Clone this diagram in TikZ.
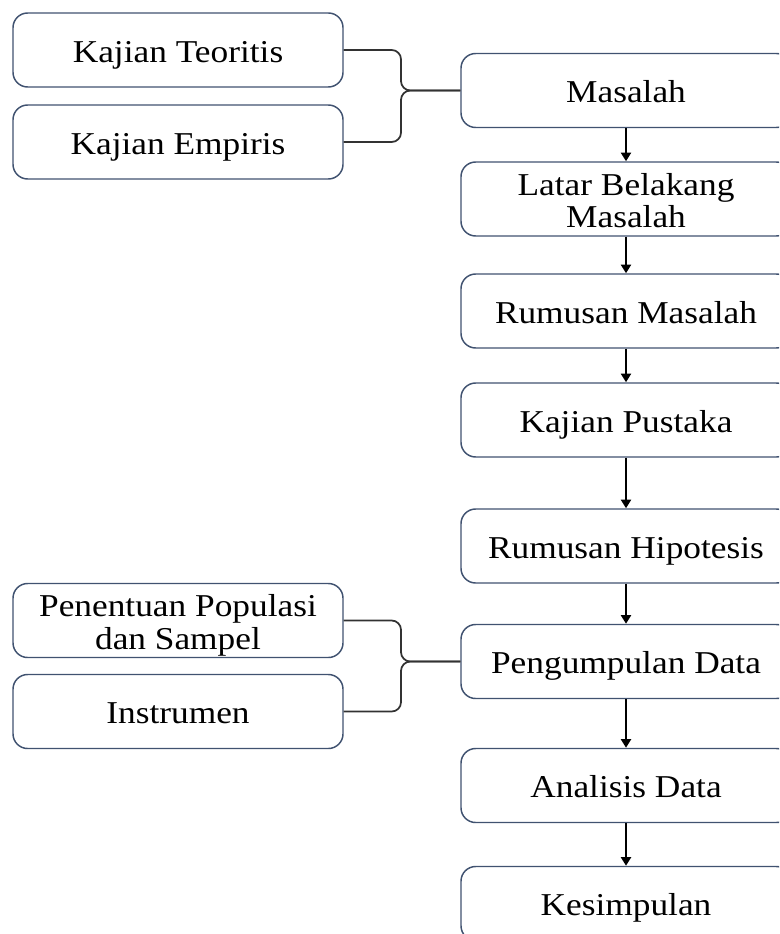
\documentclass[tikz,border=0pt]{standalone}
\usepackage{graphicx}
\usepackage{fontspec}
\setmainfont{Liberation Serif}
\usetikzlibrary{arrows.meta}
\definecolor{boxline}{RGB}{64,82,112}
\definecolor{braceline}{RGB}{50,50,50}
\newcommand{\lbl}[1]{\raisebox{-10pt}[0pt][0pt]{\scalebox{1}[0.9]{\begin{tabular}{@{}c@{}}#1\end{tabular}}}}
\begin{document}
\begin{tikzpicture}[x=0.75pt,y=-0.75pt,
  box/.style={draw=boxline, line width=1.1pt, rounded corners=11pt,
    minimum width=247.5pt, minimum height=55.5pt, inner sep=0pt,
    font=\fontsize{26.5}{27}\selectfont, text=black},
  arr/.style={-{Triangle[length=6.5pt,width=7.5pt]}, line width=2pt, black},
  br/.style={draw=braceline, line width=1.3pt, rounded corners=7pt}]
\useasboundingbox (0,0) rectangle (779,934);
\clip (0,0) rectangle (779,934);
% right column
\node[box] (mas) at (626,90.5) {\lbl{Masalah}};
\node[box] (lat) at (626,199) {\lbl{Latar Belakang\\ Masalah}};
\node[box] (rum) at (626,311) {\lbl{Rumusan Masalah}};
\node[box] (kp) at (626,420) {\lbl{Kajian Pustaka}};
\node[box] (rh) at (626,546) {\lbl{Rumusan Hipotesis}};
\node[box] (pd) at (626,661.5) {\lbl{Pengumpulan Data}};
\node[box] (ad) at (626,785.5) {\lbl{Analisis Data}};
\node[box] (ks) at (626,903.5) {\lbl{Kesimpulan}};
% left column
\node[box] (kt) at (178,50) {\lbl{Kajian Teoritis}};
\node[box] (ke) at (178,142) {\lbl{Kajian Empiris}};
\node[box] (pp) at (178,620.5) {\lbl{Penentuan Populasi\\ dan Sampel}};
\node[box] (in) at (178,711.5) {\lbl{Instrumen}};
% arrows
\draw[arr] (mas.south) -- (lat.north);
\draw[arr] (lat.south) -- (rum.north);
\draw[arr] (rum.south) -- (kp.north);
\draw[arr] (kp.south) -- (rh.north);
\draw[arr] (rh.south) -- (pd.north);
\draw[arr] (pd.south) -- (ad.north);
\draw[arr] (ad.south) -- (ks.north);
% brackets
\coordinate (j1) at (401,90.5);
\coordinate (j2) at (401,661.5);
\draw[br] (kt.east) -| (j1) -- (mas.west);
\draw[br] (ke.east) -| (j1) -- (mas.west);
\draw[br] (pp.east) -| (j2) -- (pd.west);
\draw[br] (in.east) -| (j2) -- (pd.west);
\end{tikzpicture}
\end{document}
